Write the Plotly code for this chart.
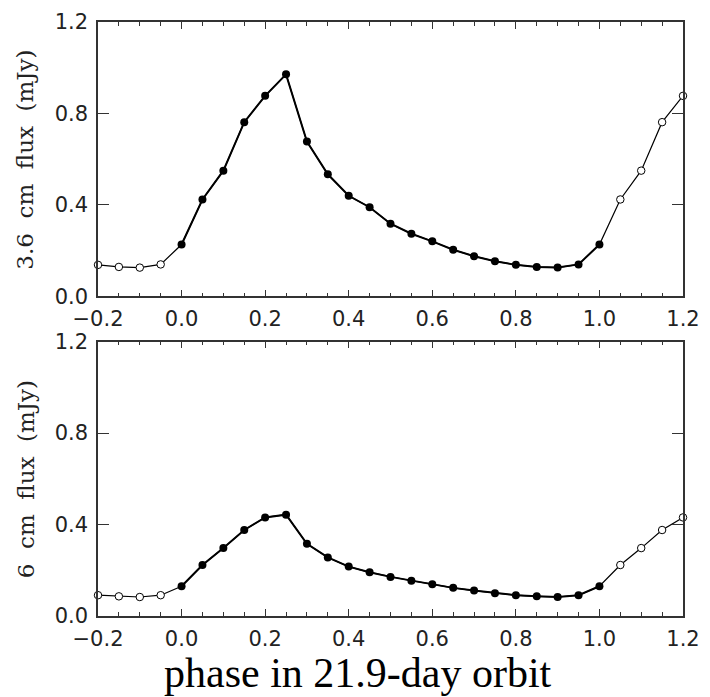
import plotly.graph_objects as go

# ---- data ----
phase = [-0.20, -0.15, -0.10, -0.05, 0.00, 0.05, 0.10, 0.15, 0.20, 0.25, 0.30,
         0.35, 0.40, 0.45, 0.50, 0.55, 0.60, 0.65, 0.70, 0.75, 0.80, 0.85,
         0.90, 0.95, 1.00, 1.05, 1.10, 1.15, 1.20]
flux_36 = [0.138, 0.129, 0.126, 0.140, 0.227, 0.424, 0.550, 0.762, 0.877, 0.971,
           0.677, 0.534, 0.440, 0.390, 0.318, 0.274, 0.241, 0.204, 0.176, 0.154,
           0.138, 0.129, 0.126, 0.140, 0.227, 0.424, 0.550, 0.762, 0.877]
flux_6 = [0.091, 0.086, 0.083, 0.091, 0.130, 0.223, 0.297, 0.376, 0.431, 0.443,
          0.316, 0.256, 0.216, 0.191, 0.171, 0.154, 0.139, 0.123, 0.111, 0.100,
          0.091, 0.086, 0.083, 0.091, 0.130, 0.223, 0.297, 0.376, 0.431]
# observed (filled) points are phases 0.0 .. 1.0; the others are repeated (open)
observed = [0.0 <= p <= 1.0 + 1e-9 for p in phase]

x_ticks = [-0.2, 0.0, 0.2, 0.4, 0.6, 0.8, 1.0, 1.2]
y_ticks = [0.0, 0.4, 0.8, 1.2]
y_titles = ["3.6  cm  flux  (mJy)", "6  cm  flux  (mJy)"]
x_title = "phase in 21.9-day orbit"

fig = go.Figure()

for i, flux in enumerate([flux_36, flux_6]):
    xa = "x" if i == 0 else "x2"
    ya = "y" if i == 0 else "y2"
    # thin line through all points
    fig.add_trace(go.Scatter(x=phase, y=flux, mode="lines", xaxis=xa, yaxis=ya,
                             line=dict(color="black", width=1.2), showlegend=False,
                             hoverinfo="skip"))
    px = [p for p, o in zip(phase, observed) if o]
    py = [f for f, o in zip(flux, observed) if o]
    ox = [p for p, o in zip(phase, observed) if not o]
    oy = [f for f, o in zip(flux, observed) if not o]
    fig.add_trace(go.Scatter(x=px, y=py, mode="lines+markers", xaxis=xa, yaxis=ya,
                             line=dict(color="black", width=2),
                             marker=dict(color="black", size=8),
                             showlegend=False))
    fig.add_trace(go.Scatter(x=ox, y=oy, mode="markers", xaxis=xa, yaxis=ya,
                             marker=dict(color="white", size=7.5,
                                         line=dict(color="black", width=1)),
                             showlegend=False, cliponaxis=False))

axis_common = dict(
    showgrid=False, zeroline=False, showline=True, linecolor="#333", linewidth=1.5,
    mirror="ticks", ticks="inside", tickcolor="#333",
    tickfont=dict(family="DejaVu Sans", size=21, color="#222"),
)

xaxis_common = dict(axis_common, range=[-0.2, 1.2], tickvals=x_ticks,
                    tickformat=".1f", ticklen=7, tickwidth=1.3,
                    minor=dict(dtick=0.05, tick0=0, ticklen=4, ticks="inside",
                               tickcolor="#333", tickwidth=1.2),
                    ticklabelstandoff=3)
yaxis_common = dict(axis_common, range=[0, 1.2], tickvals=y_ticks,
                    tickformat=".1f", ticklen=11, tickwidth=1.3,
                    ticklabelstandoff=4)

fig.update_layout(
    width=710, height=697,
    margin=dict(l=98, r=19, t=10, b=81),
    paper_bgcolor="white", plot_bgcolor="white",
    xaxis=dict(xaxis_common, anchor="y", domain=[0, 1]),
    yaxis=dict(yaxis_common, anchor="x", domain=[0.538, 1]),
    xaxis2=dict(xaxis_common, anchor="y2", domain=[0, 1]),
    yaxis2=dict(yaxis_common, anchor="x2", domain=[0, 0.462]),
)

# y-axis titles
for i, t in enumerate(y_titles):
    ymid = (0.538 + 1) / 2 if i == 0 else 0.462 / 2
    fig.add_annotation(text=t, xref="paper", yref="paper", x=-0.124, y=ymid,
                       xanchor="center", yanchor="middle", textangle=-90,
                       showarrow=False,
                       font=dict(family="DejaVu Serif", size=23, color="#222"))

# x title
fig.add_annotation(text=x_title, xref="paper", yref="paper",
                   x=(362 - 98) / 593, y=-(674 - 616) / 606,
                   xanchor="center", yanchor="middle", showarrow=False,
                   font=dict(family="Liberation Serif", size=42, color="black"))

fig.write_html("out.html")
